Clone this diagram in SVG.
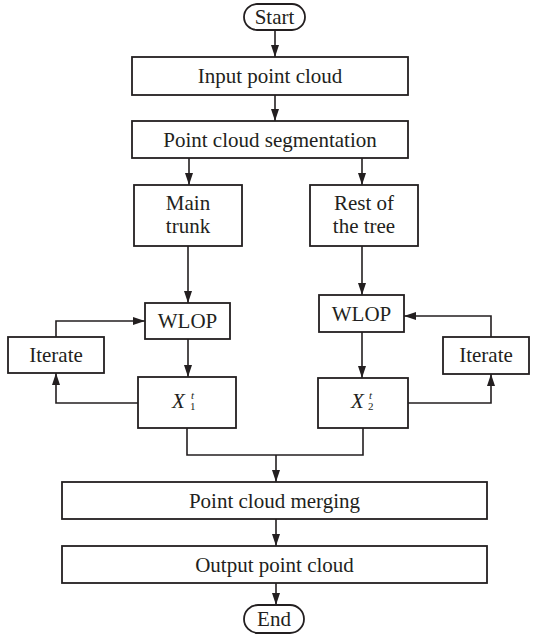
<svg xmlns="http://www.w3.org/2000/svg" width="537" height="638" viewBox="0 0 537 638">
<style>
.box{fill:#fff;stroke:#231f20;stroke-width:1.8}
.t{font-family:"Liberation Serif","Times New Roman",serif;font-size:21px;fill:#231f20;text-anchor:middle}
.x{font-family:"Liberation Serif","Times New Roman",serif;font-size:21px;fill:#231f20;font-style:italic}
.s{font-family:"Liberation Serif","Times New Roman",serif;font-size:11px;fill:#231f20}
.c{fill:none;stroke:#231f20;stroke-width:1.6}
</style>
<defs>
<marker id="ah" markerWidth="12" markerHeight="8" refX="12" refY="4" orient="auto" markerUnits="userSpaceOnUse">
<path d="M0,0 L12,4 L0,8 Z" fill="#231f20"/>
</marker>
</defs>
<rect width="537" height="638" fill="#fff"/>
<g id="connectors">
<path class="c" d="M275,30 V57" marker-end="url(#ah)"/>
<path class="c" d="M275,95 V121" marker-end="url(#ah)"/>
<path class="c" d="M189,158 V185" marker-end="url(#ah)"/>
<path class="c" d="M362,158 V185" marker-end="url(#ah)"/>
<path class="c" d="M188,246 V303" marker-end="url(#ah)"/>
<path class="c" d="M362,246 V295" marker-end="url(#ah)"/>
<path class="c" d="M188,339 V377" marker-end="url(#ah)"/>
<path class="c" d="M362,332 V378" marker-end="url(#ah)"/>
<path class="c" d="M56,337 V321 H145" marker-end="url(#ah)"/>
<path class="c" d="M138,403 H56 V373" marker-end="url(#ah)"/>
<path class="c" d="M491,337 V316 H404" marker-end="url(#ah)"/>
<path class="c" d="M408,403 H491 V374" marker-end="url(#ah)"/>
<path class="c" d="M187,428 V455 H363 V428"/>
<path class="c" d="M276,455 V482" marker-end="url(#ah)"/>
<path class="c" d="M276,519 V546" marker-end="url(#ah)"/>
<path class="c" d="M276,583 V605" marker-end="url(#ah)"/>
</g>
<g id="start"><rect class="box" x="244" y="4" width="61" height="26" rx="13"/><text class="t" x="274.5" y="24">Start</text></g>
<g id="input"><rect class="box" x="132" y="57" width="276" height="38"/><text class="t" x="270" y="83">Input point cloud</text></g>
<g id="segmentation"><rect class="box" x="132" y="121" width="276" height="37"/><text class="t" x="270" y="147">Point cloud segmentation</text></g>
<g id="trunk"><rect class="box" x="134" y="185" width="108" height="61"/><text class="t" x="188" y="210">Main</text><text class="t" x="188" y="233">trunk</text></g>
<g id="rest"><rect class="box" x="310" y="185" width="108" height="61"/><text class="t" x="364" y="210">Rest of</text><text class="t" x="364" y="233">the tree</text></g>
<g id="wlop1"><rect class="box" x="145" y="303" width="85" height="36"/><text class="t" x="187.5" y="328">WLOP</text></g>
<g id="wlop2"><rect class="box" x="319" y="295" width="85" height="37"/><text class="t" x="361.5" y="321">WLOP</text></g>
<g id="iterate1"><rect class="box" x="8" y="337" width="96" height="36"/><text class="t" x="56" y="362">Iterate</text></g>
<g id="iterate2"><rect class="box" x="443" y="337" width="86" height="37"/><text class="t" x="486" y="362">Iterate</text></g>
<g id="x1"><rect class="box" x="138" y="377" width="98" height="51"/><text class="x" x="172" y="408">X</text><text class="s" x="191" y="399" font-style="italic">t</text><text class="s" x="190" y="410">1</text></g>
<g id="x2"><rect class="box" x="318" y="378" width="90" height="50"/><text class="x" x="351" y="408">X</text><text class="s" x="369" y="399" font-style="italic">t</text><text class="s" x="368" y="410">2</text></g>
<g id="merging"><rect class="box" x="62" y="482" width="425" height="37"/><text class="t" x="274.5" y="508">Point cloud merging</text></g>
<g id="output"><rect class="box" x="62" y="546" width="425" height="37"/><text class="t" x="274.5" y="572">Output point cloud</text></g>
<g id="end"><rect class="box" x="244" y="605" width="60" height="28" rx="14"/><text class="t" x="274" y="626">End</text></g>
</svg>
